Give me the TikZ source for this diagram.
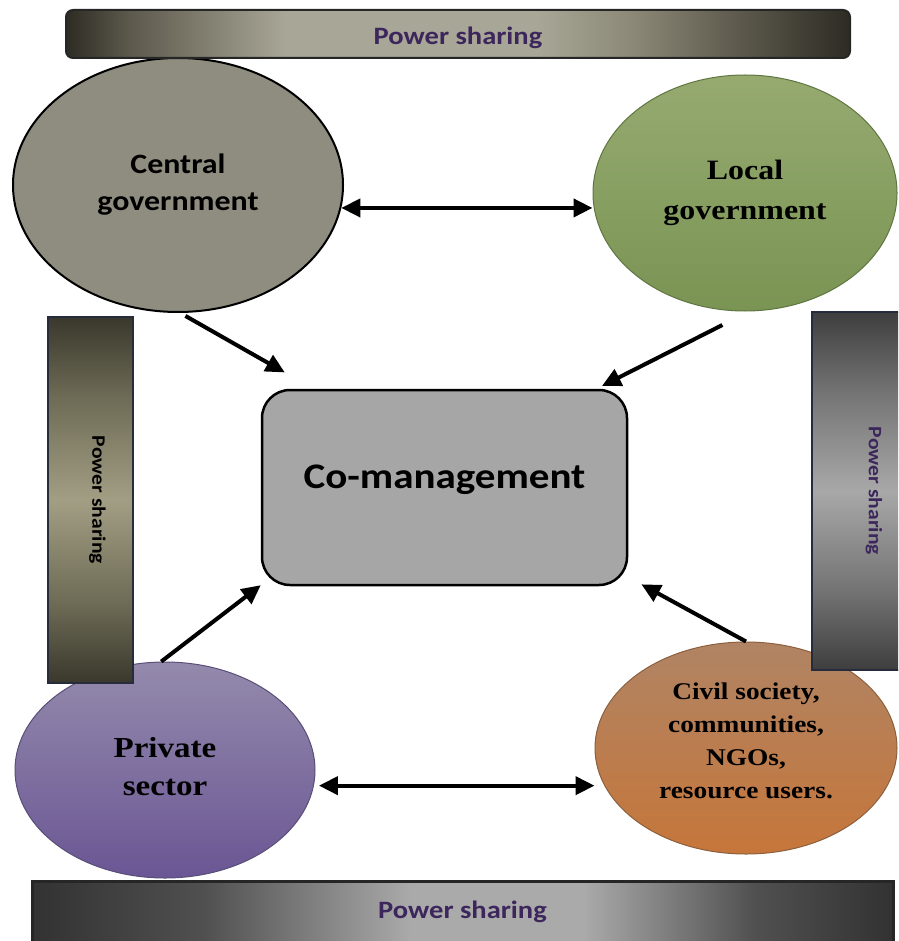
\documentclass[tikz,border=0pt]{standalone}
\usepackage{fontspec}
\setmainfont[FakeStretch=1.14]{Liberation Serif}
\newfontfamily\barFont[FakeStretch=1.14]{Carlito}
\usetikzlibrary{shapes.geometric,arrows.meta}

\definecolor{shareText}{RGB}{60,38,92}
\definecolor{barEdge}{RGB}{38,44,60}
\definecolor{centralFill}{RGB}{143,141,128}
\definecolor{localTop}{RGB}{150,170,112}
\definecolor{localBot}{RGB}{122,148,84}
\definecolor{localEdge}{RGB}{96,118,66}
\definecolor{privTop}{RGB}{148,138,172}
\definecolor{privBot}{RGB}{106,86,148}
\definecolor{privEdge}{RGB}{88,78,120}
\definecolor{civilTop}{RGB}{176,132,100}
\definecolor{civilBot}{RGB}{198,118,58}
\definecolor{civilEdge}{RGB}{140,96,62}
\definecolor{coFill}{RGB}{166,166,166}
% olive tones of the upper bar, greys of the lower one
\definecolor{tbDark}{RGB}{45,44,36}
\definecolor{tbDim}{RGB}{92,89,76}
\definecolor{tbMid}{RGB}{140,137,120}
\definecolor{tbLight}{RGB}{168,166,150}
\definecolor{bbDark}{RGB}{50,50,50}
\definecolor{bbDim}{RGB}{80,80,80}
\definecolor{bbLight}{RGB}{170,170,170}
\definecolor{lbDark}{RGB}{58,56,44}
\definecolor{lbMid}{RGB}{110,107,86}
\definecolor{lbLight}{RGB}{162,158,132}
\definecolor{rbDark}{RGB}{62,62,62}
\definecolor{rbMid}{RGB}{115,115,115}
\definecolor{rbLight}{RGB}{168,168,168}

\pgfdeclarehorizontalshading{topBarShade}{100bp}{color(0bp)=(tbDark); color(25bp)=(tbDark);
  color(29bp)=(tbDim); color(39bp)=(tbLight); color(55bp)=(tbLight);
  color(61bp)=(tbMid); color(68bp)=(tbDim); color(75bp)=(tbDark); color(100bp)=(tbDark)}
\pgfdeclarehorizontalshading{bottomBarShade}{100bp}{color(0bp)=(bbDark); color(25bp)=(bbDark);
  color(35bp)=(bbDim); color(47bp)=(bbLight); color(57bp)=(bbLight);
  color(67bp)=(bbDim); color(75bp)=(bbDark); color(100bp)=(bbDark)}
\pgfdeclareverticalshading{leftBarShade}{100bp}{color(0bp)=(lbDark); color(25bp)=(lbDark);
  color(36bp)=(lbMid); color(50bp)=(lbLight); color(64bp)=(lbMid);
  color(75bp)=(lbDark); color(100bp)=(lbDark)}
\pgfdeclareverticalshading{rightBarShade}{100bp}{color(0bp)=(rbDark); color(25bp)=(rbDark);
  color(36bp)=(rbMid); color(50bp)=(rbLight); color(64bp)=(rbMid);
  color(75bp)=(rbDark); color(100bp)=(rbDark)}

\tikzset{
  actor/.style={ellipse, inner sep=0pt, align=center},
  shareBar/.style={rectangle, inner sep=0pt, text=shareText,
    font=\barFont\bfseries\fontsize{25}{30}\selectfont},
  sideBar/.style={shareBar, draw=barEdge, line width=2pt,
    font=\barFont\bfseries\fontsize{19}{22}\selectfont},
  twoWay/.style={{Triangle[length=19pt,width=18pt]}-{Triangle[length=19pt,width=18pt]}, line width=4pt},
  oneWay/.style={-{Triangle[length=19pt,width=18pt]}, line width=4pt},
}

\begin{document}
\begin{tikzpicture}[x=1pt,y=-1pt]
\useasboundingbox (0,0) rectangle (898,941);
\clip (0,0) rectangle (898,941);

% the four actors
\node[actor, fill=centralFill, draw=black, line width=2pt, minimum width=330, minimum height=254,
  font=\barFont\bfseries\fontsize{28}{37}\selectfont] (central) at (178,185) {Central\\government};
\node[actor, top color=localTop, bottom color=localBot, draw=localEdge, line width=1pt,
  minimum width=304, minimum height=236, font=\bfseries\fontsize{28}{40}\selectfont]
  (local) at (745,193) {Local\\government};
\node[actor, top color=privTop, bottom color=privBot, draw=privEdge, line width=1pt,
  minimum width=300, minimum height=216, text depth=8pt, font=\bfseries\fontsize{29}{38}\selectfont]
  (private) at (165,770) {Private\\sector};
\node[actor, top color=civilTop, bottom color=civilBot, draw=civilEdge, line width=1pt,
  minimum width=302, minimum height=212, text depth=14pt, font=\bfseries\fontsize{24}{33}\selectfont]
  (civil) at (746,748) {Civil society,\\communities,\\NGOs,\\resource users.};

\node[draw=black, line width=2.5pt, fill=coFill, rounded corners=28pt, minimum width=365,
  minimum height=195, text depth=22pt, font=\barFont\bfseries\fontsize{36}{40}\selectfont]
  (comgmt) at (444.5,487.5) {Co-management};

% links
\draw[twoWay] (central.-8) -- (central.-8 -| local.west);
\draw[twoWay, shorten <=5pt] (private.-6) -- (private.-6 -| civil.west);
\draw[oneWay, shorten <=6pt, shorten >=33pt] (central.-89) -- (comgmt.143);
\draw[oneWay, shorten <=30pt, shorten >=6pt] (local.-88) -- (comgmt.33);
\draw[oneWay] (private.92) -- (comgmt.208);
\draw[oneWay, shorten >=15pt] (civil.90) -- (comgmt.-26);

% power sharing bars
\node[shareBar, shading=topBarShade, draw=black!85, line width=2pt, rounded corners=7pt,
  minimum width=784, minimum height=48, text height=26pt, text depth=5pt] (topBar) at (458,34) {Power sharing};
\node[shareBar, shading=bottomBarShade, draw=black!85, line width=3pt,
  minimum width=861, minimum height=62] (bottomBar) at (462.5,912) {Power sharing};
\node[sideBar, shading=leftBarShade, text=black, minimum width=85, minimum height=366]
  (leftBar) at (90.5,500) {\hspace*{14pt}\rotatebox{-90}{Power sharing}};
\node[sideBar, shading=rightBarShade, minimum width=124, minimum height=358]
  (rightBar) at (874,491) {\rotatebox{-90}{Power sharing}};

\end{tikzpicture}
\end{document}
